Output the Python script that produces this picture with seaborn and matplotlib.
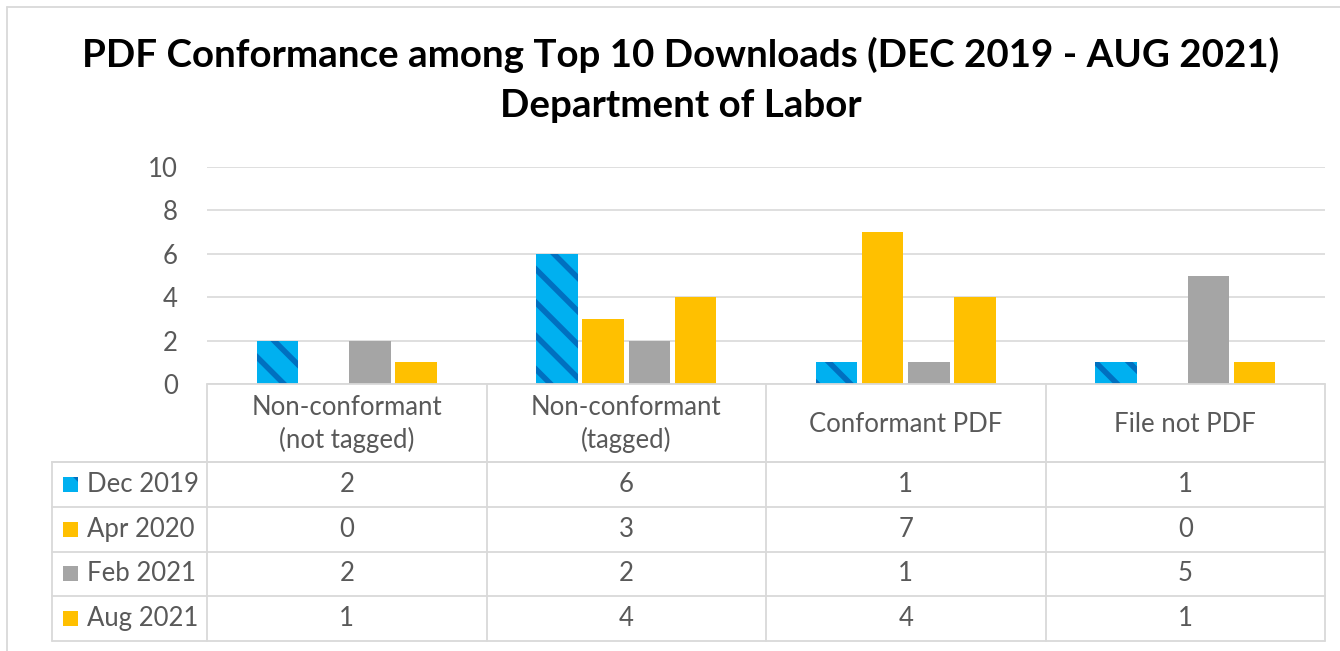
import matplotlib
matplotlib.use("Agg")
import matplotlib.pyplot as plt
import seaborn as sns
import pandas as pd
from matplotlib.patches import Rectangle
from matplotlib.lines import Line2D

categories = ["Non-conformant\n(not tagged)", "Non-conformant\n(tagged)", "Conformant PDF", "File not PDF"]
series = ["Dec 2019", "Apr 2020", "Feb 2021", "Aug 2021"]
dec_2019 = [2, 6, 1, 1]
apr_2020 = [0, 3, 7, 0]
feb_2021 = [2, 2, 1, 5]
aug_2021 = [1, 4, 4, 1]
values = [dec_2019, apr_2020, feb_2021, aug_2021]
colors = {"Dec 2019": "#00B0F0", "Apr 2020": "#FFC000", "Feb 2021": "#A5A5A5", "Aug 2021": "#FFC000"}
hatch_color = "#0070C0"
title = "PDF Conformance among Top 10 Downloads (DEC 2019 - AUG 2021)\nDepartment of Labor"

rows = []
for s, vals in zip(series, values):
    for c, v in zip(categories, vals):
        rows.append({"category": c, "series": s, "value": v})
df = pd.DataFrame(rows)

sns.set_style("white")
plt.rcParams["font.family"] = ["Lato", "DejaVu Sans"]
plt.rcParams["hatch.linewidth"] = 4.0

W, H = 1340, 651
fig = plt.figure(figsize=(W / 100, H / 100), dpi=100)
L, R, B, T = 207, 1325, 384, 167
ax = fig.add_axes([L / W, 1 - B / H, (R - L) / W, (B - T) / H])

sns.barplot(data=df, x="category", y="value", hue="series", hue_order=series,
            order=categories, palette=colors, width=0.66, gap=0.1,
            legend=False, ax=ax, saturation=1, linewidth=0)

# hatch the Dec 2019 bars
for cont, s in zip(ax.containers, series):
    for bar in cont:
        if s == "Dec 2019":
            bar.set_hatch("\\")
            bar.set_edgecolor(hatch_color)
            bar.set_linewidth(0)

ax.set_xlim(-0.5, len(categories) - 0.5)
ax.set_ylim(0, 10)
ax.set_yticks(range(0, 11, 2))
ax.tick_params(axis="y", labelsize=18.5, labelcolor="#595959", length=0, pad=21)
ax.set_xticks([])
ax.set_xlabel("")
ax.set_ylabel("")
ax.grid(axis="y", color="#D9D9D9", linewidth=1.2)
ax.set_axisbelow(True)
for sp in ax.spines.values():
    sp.set_visible(False)

fig.suptitle(title, x=0.508, y=0.943, fontsize=27.7, fontweight="bold", color="black", linespacing=1.55)

# data table overlay in pixel coordinates
ov = fig.add_axes([0, 0, 1, 1], facecolor="none")
ov.set_xlim(0, W)
ov.set_ylim(H, 0)
ov.axis("off")
gc = "#D9D9D9"
colw = (R - L) / len(categories)
row_top = 462
row_h = (641 - 462) / len(series)
left = 52
lines = [
    ((L, R), (B, B)), ((left, R), (row_top, row_top)),
    ((left, left), (row_top, 641)), ((R, R), (B, 641)),
]
for i in range(len(series) + 1):
    y = row_top + i * row_h
    lines.append(((left, R), (y, y)))
for j in range(len(categories)):
    x = L + j * colw
    lines.append(((x, x), (B, 641)))
for xs, ys in lines:
    ov.add_line(Line2D(xs, ys, color=gc, linewidth=1.3))
# figure frame
ov.add_line(Line2D((7, W), (7, 7), color=gc, linewidth=1.3))
ov.add_line(Line2D((7, 7), (7, H), color=gc, linewidth=1.3))

tc = "#595959"
for j, c in enumerate(categories):
    ov.text(L + (j + 0.5) * colw, (B + row_top) / 2 + 1, c, ha="center", va="center",
            fontsize=18.5, color=tc, linespacing=1.35)
for i, (s, vals) in enumerate(zip(series, values)):
    yc = row_top + (i + 0.5) * row_h
    sq = Rectangle((63, yc - 7.5), 15, 15, facecolor=colors[s], linewidth=0,
                   edgecolor=hatch_color if s == "Dec 2019" else colors[s],
                   hatch="\\" if s == "Dec 2019" else None)
    ov.add_patch(sq)
    ov.text(87, yc, s, ha="left", va="center", fontsize=18.5, color=tc)
    for j, v in enumerate(vals):
        ov.text(L + (j + 0.5) * colw, yc, str(v), ha="center", va="center", fontsize=18.5, color=tc)

fig.savefig("out.png", dpi=100)
